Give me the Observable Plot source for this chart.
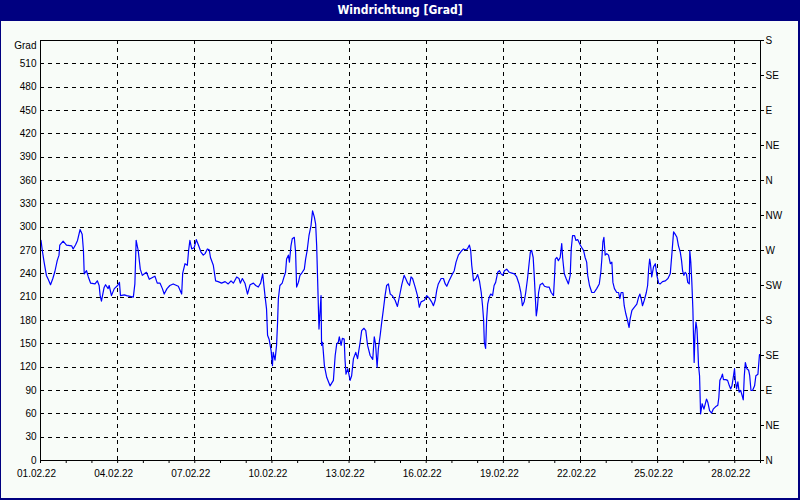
<!DOCTYPE html>
<html>
<head>
<meta charset="utf-8">
<script src="https://cdn.jsdelivr.net/npm/d3@7"></script>
<script src="https://cdn.jsdelivr.net/npm/@observablehq/plot@0.6"></script>
<style>
  html, body { margin: 0; padding: 0; background: #000080; }
  #win { position: relative; width: 800px; height: 500px; background: #000080; overflow: hidden; }
  #title { position: absolute; left: 0; top: 0; width: 800px; height: 21px; line-height: 20px;
           text-align: center; color: #ffffff; font-family: "Liberation Sans Narrow", "DejaVu Sans Condensed", sans-serif;
           font-weight: bold; font-size: 12px; }
  #body { position: absolute; left: 1px; top: 21px; width: 797px; height: 477px; background: #f8fcf8; }
  #body svg { display: block; }
</style>
</head>
<body>
<div id="win">
  <div id="title">Windrichtung [Grad]</div>
  <div id="body"></div>
</div>
<script>
// Time in days since 01.02.22 00:00
const days = [
0.02,0.07,0.14,0.23,0.30,0.39,0.48,0.56,0.65,0.72,0.75,0.88,1.01,1.21,1.27,1.36,1.44,1.54,1.62,1.67,1.70,1.79,1.86,1.95,
2.12,2.21,2.28,2.32,2.37,2.47,2.53,2.63,2.67,2.76,2.87,3.00,3.07,3.11,3.26,3.35,3.61,3.67,3.72,3.80,3.88,3.96,
4.04,4.12,4.23,4.39,4.45,4.54,4.65,4.74,4.81,4.92,5.03,5.16,5.36,5.49,5.53,5.62,5.71,5.76,5.81,5.88,5.98,
6.06,6.14,6.24,6.33,6.40,6.49,6.56,6.61,6.72,6.81,6.91,7.04,7.18,7.30,7.41,7.50,7.63,7.72,7.77,7.85,7.95,
8.05,8.15,8.28,8.37,8.47,8.56,8.64,8.73,8.79,8.83,8.89,8.97,9.02,9.05,9.12,9.18,9.22,9.25,9.31,9.40,9.47,9.53,
9.57,9.64,9.68,9.74,9.79,9.87,9.92,9.96,10.03,10.09,10.18,10.26,10.31,10.37,10.44,10.52,10.58,10.65,10.70,10.74,
10.78,10.83,10.87,10.91,10.93,10.97,11.04,11.13,11.26,11.39,11.46,11.52,11.58,11.62,11.69,11.74,11.81,11.84,
11.88,11.95,12.04,12.10,12.17,12.26,12.33,12.43,12.49,12.58,12.65,12.72,12.82,12.92,12.98,13.03,13.09,13.14,
13.21,13.27,13.33,13.40,13.46,13.53,13.60,13.68,13.79,13.88,13.99,14.05,14.14,14.20,14.28,14.35,14.41,14.47,
14.57,14.66,14.73,14.80,14.93,15.02,15.11,15.21,15.28,15.35,15.41,15.47,15.58,15.67,15.74,15.80,15.89,15.99,
16.09,16.16,16.25,16.36,16.45,16.51,16.60,16.68,16.73,16.77,16.84,16.93,17.00,17.07,17.14,17.19,17.23,17.26,
17.31,17.35,17.39,17.45,17.51,17.58,17.64,17.70,17.78,17.85,17.91,17.98,18.04,18.13,18.23,18.33,18.43,18.52,
18.61,18.68,18.74,18.81,18.87,18.94,19.00,19.05,19.10,19.16,19.20,19.24,19.28,19.32,19.37,19.43,19.52,19.60,
19.69,19.78,19.86,19.95,19.99,20.02,20.08,20.14,20.21,20.27,20.31,20.37,20.44,20.53,20.60,20.64,20.69,20.77,
20.82,20.89,20.99,21.08,21.12,21.18,21.24,21.28,21.35,21.44,21.53,21.63,21.73,21.79,21.83,21.87,21.91,21.96,
22.02,22.09,22.16,22.22,22.26,22.32,22.41,22.48,22.53,22.58,22.65,22.70,22.76,22.83,22.89,22.93,23.00,23.09,
23.19,23.26,23.31,23.36,23.41,23.48,23.56,23.61,23.65,23.69,23.72,23.77,23.84,23.91,23.97,24.04,24.10,24.19,
24.30,24.40,24.49,24.55,24.62,24.68,24.75,24.81,24.88,24.93,24.97,25.02,25.07,25.12,25.17,25.23,25.25,25.29,
25.33,25.37,25.40,25.42,25.45,25.49,25.53,25.56,25.59,25.63,25.67,25.73,25.80,25.90,25.95,26.02,26.10,26.16,
26.25,26.34,26.38,26.42,26.48,26.52,26.56,26.65,26.72,26.79,26.84,26.89,26.95,26.99,27.02,27.07,27.12,27.17,
27.23,27.28,27.33,27.37,27.41,27.47,27.54,27.58,27.63,27.69,27.77,27.82,27.90,27.96,27.99
];
// Wind direction in degrees
const grad = [
283,270,255,238,233,226,234,243,257,264,277,282,277,276,272,277,283,297,291,270,240,244,236,228,
227,231,225,212,205,222,226,221,225,212,221,225,229,212,213,212,210,227,283,270,246,238,
240,242,233,236,237,228,228,221,214,221,225,227,224,214,241,253,251,270,283,272,274,
284,277,268,264,266,272,271,261,251,231,230,228,230,227,231,228,236,234,228,234,228,
214,226,228,225,223,228,240,212,195,161,156,141,122,139,129,148,178,208,225,228,236,242,
259,264,255,276,285,287,268,223,229,238,242,246,259,270,289,302,321,313,304,276,
229,169,191,212,148,152,122,107,96,103,135,150,152,159,148,157,156,131,
111,118,103,109,131,139,131,152,167,170,167,148,135,130,159,150,120,144,
161,178,193,212,225,227,214,212,206,198,216,226,238,234,228,225,236,234,
223,212,197,204,206,212,209,204,199,206,219,227,234,234,227,224,231,238,
244,255,264,269,272,271,272,277,270,251,231,234,239,231,216,199,182,152,
144,182,201,210,214,212,225,229,242,244,240,238,244,246,242,241,240,236,
227,216,199,204,216,234,253,268,270,261,238,212,186,195,216,226,228,224,
223,223,216,212,236,259,261,257,261,279,259,240,234,227,238,272,289,289,
283,284,277,272,270,261,255,238,225,216,216,221,227,242,259,281,287,264,
266,264,253,255,229,221,216,216,208,216,216,199,189,180,171,182,193,197,
201,210,214,208,199,206,216,225,246,259,253,236,249,253,238,228,227,230,
231,234,240,264,294,291,287,276,268,257,244,238,242,240,229,227,270,255,
229,195,152,126,161,178,169,148,122,109,60,73,66,79,75,64,61,66,
69,71,81,103,107,111,104,104,103,96,92,96,109,118,103,92,101,88,
90,84,78,109,126,118,116,109,90,90,96,109,111,136,136
];
const leftTicks = [0,30,60,90,120,150,180,210,240,270,300,330,360,390,420,450,480,510];
const compassTicks = [0,45,90,135,180,225,270,315,360,405,450,495,540];
const compassLabels = ["N","NE","E","SE","S","SW","W","NW","N","NE","E","SE","S"];
const dateLabels = ["01.02.22","04.02.22","07.02.22","10.02.22","13.02.22","16.02.22","19.02.22","22.02.22","25.02.22","28.02.22"];
const unitLabel = "Grad";

const t0 = new Date(2022, 1, 1).getTime();
const dayMs = 864e5;
const data = days.map((d, i) => ({t: new Date(t0 + d * dayMs), v: grad[i]}));
const parse = d3.timeParse("%d.%m.%y");
const labelDates = dateLabels.map(parse);
const dayTicks = d3.timeDay.range(new Date(2022, 1, 1), new Date(2022, 2, 2));
const compassMap = new Map(compassTicks.map((v, i) => [v, compassLabels[i]]));
const fmt = d3.timeFormat("%d.%m.%y");

const chart = Plot.plot({
  width: 797,
  height: 477,
  marginLeft: 39,
  marginRight: 38,
  marginTop: 19,
  marginBottom: 38,
  style: {fontFamily: "'Liberation Sans', sans-serif", fontSize: "10px", background: "transparent", color: "black", overflow: "visible"},
  x: {type: "time", domain: [new Date(2022, 1, 1), new Date(2022, 2, 1)]},
  y: {domain: [0, 540]},
  marks: [
    Plot.ruleY(leftTicks.slice(1), {stroke: "black", strokeDasharray: "4,4", strokeWidth: 1, shapeRendering: "crispEdges"}),
    Plot.ruleX(labelDates.slice(1), {stroke: "black", strokeDasharray: "4,4", strokeWidth: 1, shapeRendering: "crispEdges"}),
    Plot.line(data, {x: "t", y: "v", stroke: "#0000ff", strokeWidth: 1.2}),
    Plot.frame({stroke: "black", strokeWidth: 1, shapeRendering: "crispEdges"}),
    Plot.axisY({ticks: leftTicks, tickSize: 0, tickPadding: 4, label: null, tickFormat: d => String(d)}),
    Plot.axisY({anchor: "right", ticks: compassTicks, tickSize: 3, tickPadding: 2, label: null, tickFormat: d => compassMap.get(d)}),
    Plot.axisX({ticks: labelDates, tickSize: 0, tickPadding: 9, label: null, tickFormat: fmt, dx: -4}),
    Plot.axisX({ticks: dayTicks, tickSize: 3, tickFormat: () => "", label: null}),
    Plot.text([unitLabel], {frameAnchor: "top-left", dx: -4, dy: 5, textAnchor: "end", lineAnchor: "middle", text: d => d})
  ]
});
document.getElementById("body").appendChild(chart);
</script>
</body>
</html>
